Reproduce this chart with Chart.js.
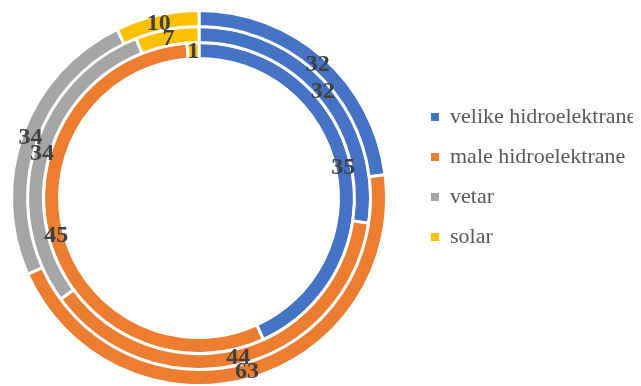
<!DOCTYPE html>
<html>
<head>
<meta charset="utf-8">
<script src="https://cdn.jsdelivr.net/npm/chart.js@4/dist/chart.umd.min.js"></script>
<style>
  html, body { margin: 0; padding: 0; background: #ffffff; }
  #wrap { position: relative; width: 641px; height: 386px; }
</style>
</head>
<body>
<div id="wrap"><canvas id="chart"></canvas></div>
<script>
// Energy sources (categories) and the three rings, outer to inner
const categories = ['velike hidroelektrane', 'male hidroelektrane', 'vetar', 'solar'];
const ringOuter  = [32, 63, 34, 10];
const ringMiddle = [32, 44, 34, 7];
const ringInner  = [35, 45, 0, 1];
const sliceColors = ['#4472C4', '#ED7D31', '#A5A5A5', '#FFC000'];

const serif = "'Liberation Serif', 'Times New Roman', Times, serif";

// Value labels drawn at the centre of each arc
const arcValueLabels = {
  id: 'arcValueLabels',
  afterDatasetsDraw(chart) {
    const ctx = chart.ctx;
    ctx.save();
    ctx.font = 'bold 24px ' + serif;
    ctx.fillStyle = '#404040';
    ctx.textAlign = 'center';
    ctx.textBaseline = 'middle';
    chart.data.datasets.forEach((ds, i) => {
      const meta = chart.getDatasetMeta(i);
      meta.data.forEach((arc, j) => {
        const v = ds.data[j];
        if (!v) return;
        const p = arc.tooltipPosition();
        ctx.fillText(String(v), p.x, p.y + 1);
      });
    });
    ctx.restore();
  }
};

// Moves the legend block next to the rings
const legendPlacement = {
  id: 'legendPlacement',
  afterLayout(chart) {
    const lg = chart.legend;
    if (!lg) return;
    const dx = 15, dy = -21;
    lg.left += dx; lg.right += dx;
    lg.top += dy; lg.bottom += dy;
  }
};

const ringStyle = {
  backgroundColor: sliceColors,
  borderColor: '#ffffff',
  borderWidth: 3,
  hoverOffset: 0,
  clip: false
};

new Chart(document.getElementById('chart'), {
  type: 'doughnut',
  data: {
    labels: categories,
    datasets: [
      Object.assign({ label: 'outer', data: ringOuter }, ringStyle),
      Object.assign({ label: 'middle', data: ringMiddle }, ringStyle),
      Object.assign({ label: 'inner', data: ringInner }, ringStyle)
    ]
  },
  options: {
    responsive: true,
    maintainAspectRatio: false,
    animation: false,
    radius: 187.5,
    cutout: '74.4%',
    layout: { padding: { left: 0, right: 23, top: 10, bottom: 0 } },
    plugins: {
      tooltip: { enabled: false },
      legend: {
        position: 'right',
        align: 'center',
        maxWidth: 220,
        labels: {
          boxWidth: 8,
          boxHeight: 8,
          padding: 18,
          color: '#595959',
          font: { family: serif, size: 22 },
          generateLabels(chart) {
            const items = Chart.overrides.doughnut.plugins.legend.labels.generateLabels(chart);
            items.forEach(it => { it.lineWidth = 0; });
            return items;
          }
        }
      }
    }
  },
  plugins: [arcValueLabels, legendPlacement]
});
</script>
</body>
</html>
